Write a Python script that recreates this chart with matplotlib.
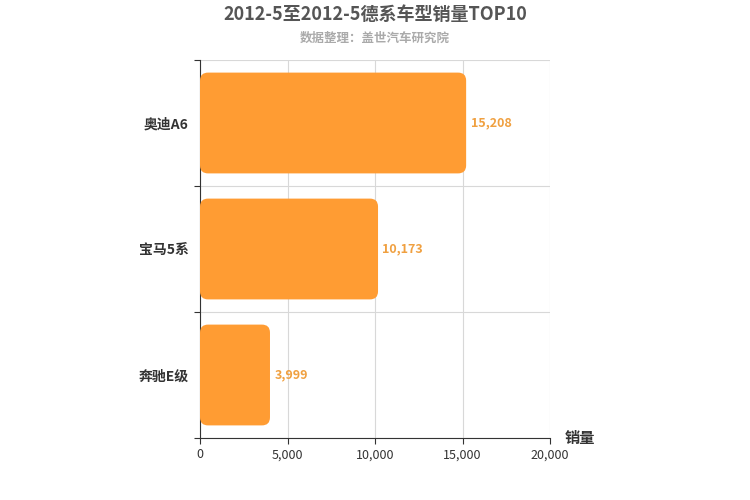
import matplotlib.pyplot as plt
from matplotlib.patches import FancyBboxPatch

plt.rcParams['font.family'] = ['Noto Sans CJK SC', 'DejaVu Sans']

models = ['奥迪A6', '宝马5系', '奔驰E级']
sales = [15208, 10173, 3999]
color = '#ff9c33'

fig = plt.figure(figsize=(7.5, 5), dpi=100)
ax = fig.add_axes([200/750, 62/500, 350/750, 378/500])
ax.set_xlim(0, 20000)
ax.set_ylim(0, 3)

# px -> data scale for rounded corners
ux = 20000 / 350
uy = 3 / 378
for i, (name, v) in enumerate(zip(models, sales)):
    yc = 2.5 - i
    h = 0.8
    box = FancyBboxPatch((0, yc - h/2), v, h,
                         boxstyle='round,pad=0,rounding_size=%f' % (8 * ux),
                         mutation_aspect=uy / ux, fc=color, ec='none', zorder=3)
    ax.add_patch(box)
    ax.text(v + 250, yc, f'{v:,}', va='center', ha='left', color='#f0a040',
            fontsize=9, fontweight='bold')

ax.set_xticks([0, 5000, 10000, 15000, 20000])
ax.set_xticklabels(['0', '5,000', '10,000', '15,000', '20,000'], color='#333', fontsize=9)
ax.set_yticks([0, 1, 2, 3])
ax.set_yticklabels([])
ax.set_yticks([0.5, 1.5, 2.5], minor=True)
ax.set_yticklabels(models[::-1], minor=True, fontsize=10, fontweight='bold', color='#333')
ax.tick_params(axis='y', which='minor', length=0, pad=8)
ax.tick_params(axis='y', which='major', length=4, color='#333')
ax.tick_params(axis='x', length=4, color='#333')
ax.grid(True, which='major', color='#d8d8d8', lw=0.8, zorder=0)
for s in ['top', 'right']:
    ax.spines[s].set_visible(False)
ax.spines['left'].set_color('#333')
ax.spines['bottom'].set_color('#333')

fig.text(0.5, 1 - 14/500, '2012-5至2012-5德系车型销量TOP10', ha='center', va='center',
         fontsize=13, fontweight='bold', color='#555')
fig.text(0.5, 1 - 38/500, '数据整理：盖世汽车研究院', ha='center', va='center',
         fontsize=9, fontweight='bold', color='#aaa')
fig.text(580/750, 1 - 438/500, '销量', ha='center', va='center', fontsize=11,
         fontweight='bold', color='#333')

fig.savefig('out.png', dpi=100)
